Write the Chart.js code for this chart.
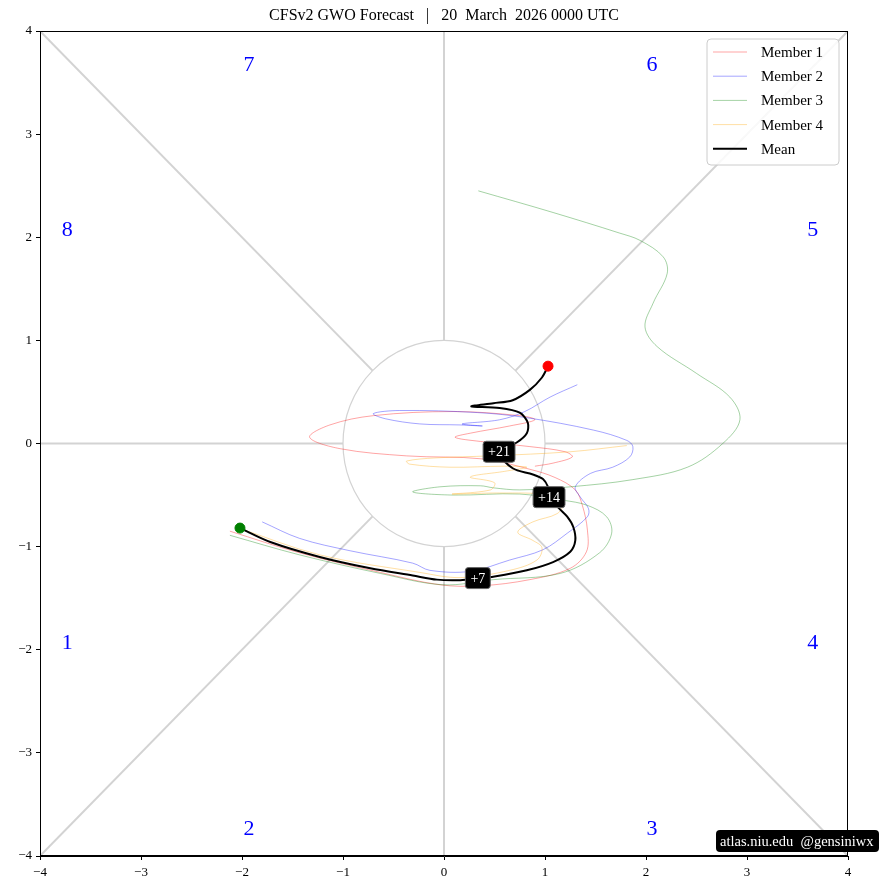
<!DOCTYPE html>
<html>
<head>
<meta charset="utf-8">
<script src="https://cdn.jsdelivr.net/npm/chart.js@4/dist/chart.umd.min.js"></script>
<style>
  body { margin: 0; background: #fff; }
  #wrap { width: 881px; height: 890px; position: relative; }
</style>
</head>
<body>
<div id="wrap"><canvas id="gwoChart"></canvas></div>
<script>
const SERIF = "'Liberation Serif', 'DejaVu Serif', serif";

const tickValues = [-4, -3, -2, -1, 0, 1, 2, 3, 4];

// ensemble members (phase space: x, y)
const member1X = [-2.12, -1.43, -0.63, -0.04, 0.36, 0.85, 1.25, 1.41, 1.42, 1.37, 1.30, 1.10, 0.85, 0.39, -0.37, -1.03, -1.33, -1.13, -0.70, 0.09, 0.75, 0.90, 0.65, 0.26, 0.11, 0.36, 0.85, 1.20, 1.27, 1.08, 0.90];
const member1Y = [-0.85, -1.06, -1.25, -1.37, -1.38, -1.32, -1.21, -1.05, -0.84, -0.60, -0.45, -0.33, -0.25, -0.15, -0.12, -0.05, 0.06, 0.18, 0.27, 0.31, 0.27, 0.23, 0.17, 0.10, 0.06, 0.02, -0.03, -0.08, -0.13, -0.19, -0.22];

const member2X = [-1.80, -1.43, -0.93, -0.31, -0.14, 0.26, 0.65, 0.98, 1.22, 1.42, 1.43, 1.35, 1.30, 1.45, 1.67, 1.84, 1.87, 1.81, 1.48, 0.82, 0.33, -0.44, -0.70, -0.58, -0.24, 0.16, 0.38, 0.18, 0.55, 0.80, 1.05, 1.32];
const member2Y = [-0.76, -0.92, -1.04, -1.16, -1.23, -1.24, -1.13, -1.03, -0.87, -0.71, -0.63, -0.52, -0.42, -0.29, -0.23, -0.13, -0.03, 0.03, 0.13, 0.25, 0.30, 0.32, 0.29, 0.24, 0.19, 0.18, 0.17, 0.19, 0.23, 0.31, 0.45, 0.57];

const member3X = [-2.12, -1.43, -0.63, -0.01, 0.49, 1.15, 1.54, 1.66, 1.61, 1.42, 1.18, 0.75, 0.09, -0.31, -0.04, 0.36, 0.49, 0.75, 1.25, 1.87, 2.41, 2.76, 2.93, 2.83, 2.50, 2.11, 1.99, 2.07, 2.21, 2.17, 1.94, 1.74, 1.08, 0.34];
const member3Y = [-0.89, -1.08, -1.26, -1.37, -1.32, -1.26, -1.06, -0.87, -0.71, -0.60, -0.55, -0.49, -0.50, -0.47, -0.42, -0.41, -0.43, -0.45, -0.42, -0.35, -0.23, 0.00, 0.23, 0.45, 0.68, 0.94, 1.13, 1.36, 1.65, 1.81, 1.97, 2.04, 2.24, 2.45];

const member4X = [-2.06, -1.23, -0.24, 0.16, 0.65, 0.92, 0.97, 0.88, 0.73, 0.88, 1.12, 1.18, 1.05, 0.55, 0.08, 0.46, 0.50, 0.26, 0.60, 0.82, 0.60, 0.06, -0.34, -0.37, -0.09, 0.46, 1.25, 1.81];
const member4Y = [-0.81, -1.08, -1.25, -1.30, -1.23, -1.13, -1.01, -0.94, -0.86, -0.76, -0.68, -0.58, -0.50, -0.48, -0.49, -0.45, -0.38, -0.325, -0.27, -0.23, -0.22, -0.23, -0.20, -0.17, -0.14, -0.12, -0.08, -0.02];

// ensemble mean
const meanX = [-2.02, -1.72, -1.23, -0.73, -0.31, -0.07, 0.16, 0.33, 0.50, 0.82, 1.08, 1.25, 1.30, 1.28, 1.22, 1.13, 1.06, 1.03, 0.98, 0.88, 0.68, 0.54, 0.72, 0.82, 0.83, 0.75, 0.55, 0.27, 0.49, 0.68, 0.85, 0.97, 1.03];
const meanY = [-0.82, -0.955, -1.10, -1.21, -1.28, -1.32, -1.325, -1.31, -1.29, -1.23, -1.15, -1.05, -0.94, -0.81, -0.71, -0.62, -0.52, -0.42, -0.345, -0.30, -0.24, -0.08, 0.01, 0.10, 0.20, 0.30, 0.345, 0.36, 0.39, 0.42, 0.52, 0.64, 0.75];

// lead-day tags on the mean
const dayTags = ['+7', '+14', '+21'];
const dayTagX = [0.335, 1.04, 0.545];
const dayTagY = [-1.305, -0.52, -0.08];

// phase numbers
const phaseNames = ['1', '2', '3', '4', '5', '6', '7', '8'];
const phaseX = [-3.73, -1.93, 2.06, 3.65, 3.65, 2.06, -1.93, -3.73];
const phaseY = [-1.94, -3.74, -3.74, -1.94, 2.07, 3.67, 3.67, 2.07];

function toPoints(xs, ys) {
  return xs.map((x, i) => ({ x: x, y: ys[i] }));
}

function fmtTick(v) {
  return v < 0 ? '\u2212' + Math.abs(v) : String(v);
}

const legendItems = [
  { label: 'Member 1', color: 'rgba(255,0,0,0.45)', width: 0.8 },
  { label: 'Member 2', color: 'rgba(0,0,255,0.45)', width: 0.8 },
  { label: 'Member 3', color: 'rgba(0,128,0,0.45)', width: 0.8 },
  { label: 'Member 4', color: 'rgba(255,165,0,0.45)', width: 0.8 },
  { label: 'Mean', color: '#000', width: 2 }
];

const backdropPlugin = {
  id: 'backdrop',
  beforeDatasetsDraw(chart) {
    const { ctx, chartArea, scales } = chart;
    const sx = scales.x, sy = scales.y;
    ctx.save();
    ctx.beginPath();
    ctx.rect(chartArea.left, chartArea.top, chartArea.right - chartArea.left, chartArea.bottom - chartArea.top);
    ctx.clip();
    ctx.strokeStyle = '#d3d3d3';
    ctx.lineWidth = 2;
    const r = Math.SQRT1_2;
    const segs = [
      [-4, 0, -1, 0], [1, 0, 4, 0], [0, -4, 0, -1], [0, 1, 0, 4],
      [-4, -4, -r, -r], [r, r, 4, 4], [-4, 4, -r, r], [r, -r, 4, -4]
    ];
    segs.forEach(s => {
      ctx.beginPath();
      ctx.moveTo(sx.getPixelForValue(s[0]), sy.getPixelForValue(s[1]));
      ctx.lineTo(sx.getPixelForValue(s[2]), sy.getPixelForValue(s[3]));
      ctx.stroke();
    });
    // unit circle
    const cx = sx.getPixelForValue(0), cy = sy.getPixelForValue(0);
    const rx = sx.getPixelForValue(1) - cx, ry = cy - sy.getPixelForValue(1);
    ctx.lineWidth = 1.2;
    ctx.beginPath();
    ctx.ellipse(cx, cy, rx, ry, 0, 0, Math.PI * 2);
    ctx.stroke();

    // phase numbers
    ctx.fillStyle = '#0000ff';
    ctx.font = '22px ' + SERIF;
    ctx.textAlign = 'center';
    ctx.textBaseline = 'middle';
    phaseNames.forEach((p, i) => {
      ctx.fillText(p, sx.getPixelForValue(phaseX[i]), sy.getPixelForValue(phaseY[i]));
    });
    ctx.restore();
  },
  afterDatasetsDraw(chart) {
    const { ctx, scales } = chart;
    ctx.save();
    ctx.font = '14px ' + SERIF;
    ctx.textAlign = 'center';
    ctx.textBaseline = 'middle';
    dayTags.forEach((t, i) => {
      const px = scales.x.getPixelForValue(dayTagX[i]);
      const py = scales.y.getPixelForValue(dayTagY[i]);
      const w = ctx.measureText(t).width + 10;
      const h = 21;
      ctx.beginPath();
      ctx.roundRect(px - w / 2, py - h / 2, w, h, 3);
      ctx.fillStyle = '#000';
      ctx.fill();
      ctx.strokeStyle = '#666';
      ctx.lineWidth = 1;
      ctx.stroke();
      ctx.fillStyle = '#fff';
      ctx.fillText(t, px, py + 1);
    });
    ctx.restore();
  },
  afterDraw(chart) {
    const { ctx, chartArea } = chart;
    ctx.save();
    // frame
    ctx.strokeStyle = '#000';
    ctx.lineWidth = 1;
    ctx.strokeRect(chartArea.left + 0.5, chartArea.top + 0.5, chartArea.right - chartArea.left - 1, chartArea.bottom - chartArea.top - 1);

    // title
    ctx.fillStyle = '#000';
    ctx.font = '16px ' + SERIF;
    ctx.textAlign = 'center';
    ctx.textBaseline = 'middle';
    ctx.fillText('CFSv2 GWO Forecast   |   20  March  2026 0000 UTC', (chartArea.left + chartArea.right) / 2, 16);

    // legend
    const lx = chartArea.right - 141, ly = chartArea.top + 8, lw = 132, lh = 126;
    ctx.beginPath();
    ctx.roundRect(lx, ly, lw, lh, 4);
    ctx.fillStyle = 'rgba(255,255,255,0.85)';
    ctx.fill();
    ctx.strokeStyle = '#cccccc';
    ctx.stroke();
    ctx.font = '15px ' + SERIF;
    ctx.textAlign = 'left';
    legendItems.forEach((it, i) => {
      const yy = ly + 13 + i * 24.2;
      ctx.strokeStyle = it.color;
      ctx.lineWidth = it.width;
      ctx.beginPath();
      ctx.moveTo(lx + 6, yy);
      ctx.lineTo(lx + 40, yy);
      ctx.stroke();
      ctx.fillStyle = '#000';
      ctx.fillText(it.label, lx + 54, yy + 1);
    });

    // credit box
    ctx.font = '14.5px ' + SERIF;
    ctx.beginPath();
    ctx.roundRect(716, 830, 163, 22, 4);
    ctx.fillStyle = '#000';
    ctx.fill();
    ctx.fillStyle = '#fff';
    ctx.textAlign = 'left';
    ctx.fillText('atlas.niu.edu  @gensiniwx', 720, 842);
    ctx.restore();
  }
};

function memberSet(xs, ys, color) {
  return {
    data: toPoints(xs, ys),
    showLine: true,
    borderColor: color,
    borderWidth: 0.8,
    pointRadius: 0,
    tension: 0.35
  };
}

const axisCommon = {
  type: 'linear',
  min: -4,
  max: 4,
  afterBuildTicks: scale => { scale.ticks = tickValues.map(v => ({ value: v })); },
  ticks: {
    color: '#000',
    font: { family: SERIF, size: 13 },
    callback: v => fmtTick(v)
  },
  grid: { drawOnChartArea: false, drawTicks: true, tickLength: 4, tickColor: '#000', color: '#000' },
  border: { display: true, color: '#000', width: 1 }
};

new Chart(document.getElementById('gwoChart'), {
  type: 'scatter',
  data: {
    datasets: [
      { data: [{ x: meanX[0], y: meanY[0] }], pointRadius: 5, pointBackgroundColor: 'green', pointBorderColor: 'green' },
      { data: [{ x: meanX[meanX.length - 1], y: meanY[meanY.length - 1] }], pointRadius: 5, pointBackgroundColor: 'red', pointBorderColor: 'red' },
      { data: toPoints(meanX, meanY), showLine: true, borderColor: '#000', borderWidth: 2, pointRadius: 0, tension: 0.3 },
      memberSet(member4X, member4Y, 'rgba(255,165,0,0.45)'),
      memberSet(member3X, member3Y, 'rgba(0,128,0,0.45)'),
      memberSet(member2X, member2Y, 'rgba(0,0,255,0.45)'),
      memberSet(member1X, member1Y, 'rgba(255,0,0,0.45)')
    ]
  },
  options: {
    responsive: true,
    maintainAspectRatio: false,
    animation: false,
    layout: { padding: { top: 31, right: 33, left: 0, bottom: 0 } },
    scales: {
      x: Object.assign({}, axisCommon, {
        position: 'bottom',
        ticks: Object.assign({}, axisCommon.ticks, { padding: 5, maxRotation: 0 }),
        afterFit: s => { s.height = 34; }
      }),
      y: Object.assign({}, axisCommon, {
        position: 'left',
        ticks: Object.assign({}, axisCommon.ticks, { padding: 4 }),
        afterFit: s => { s.width = 40; }
      })
    },
    plugins: {
      legend: { display: false },
      tooltip: { enabled: false }
    }
  },
  plugins: [backdropPlugin]
});
</script>
</body>
</html>
